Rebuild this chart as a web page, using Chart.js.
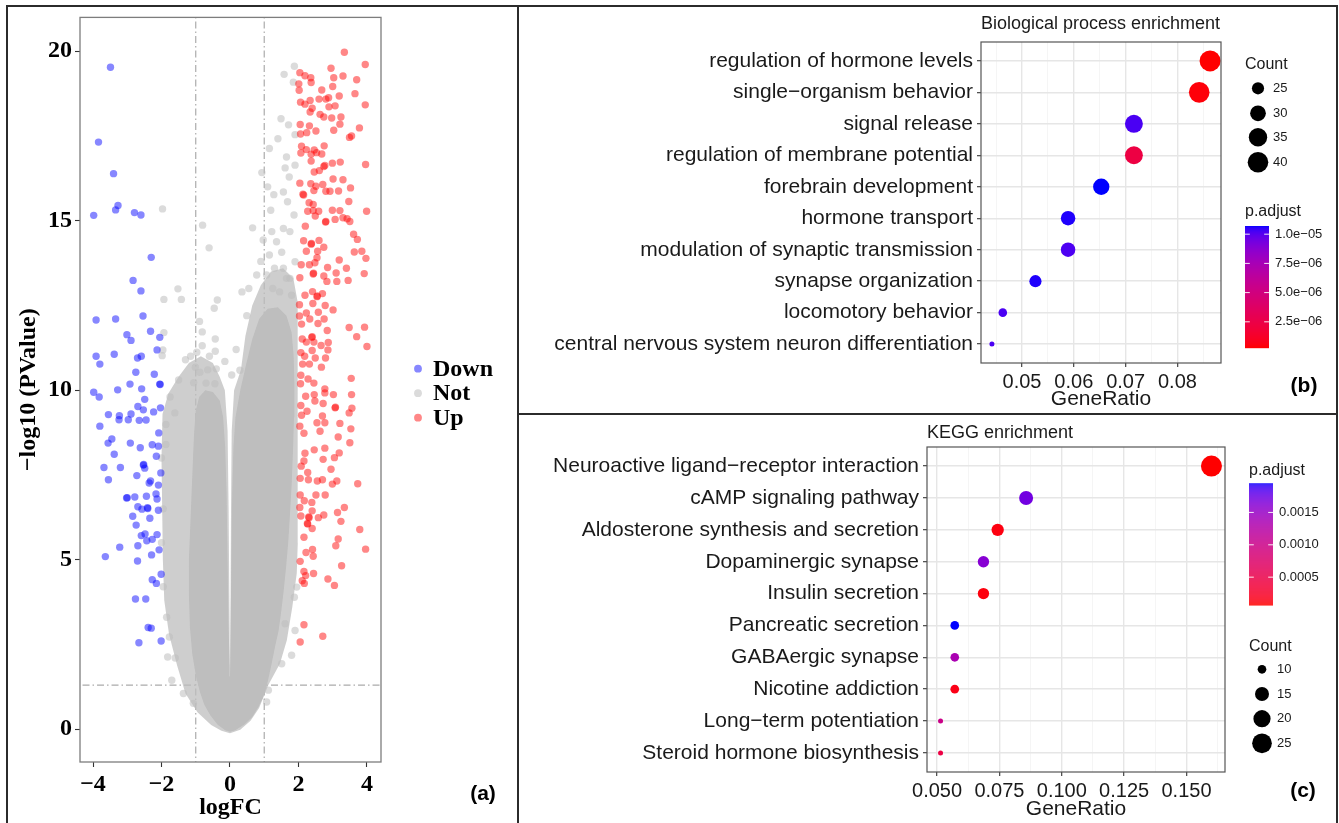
<!DOCTYPE html>
<html>
<head>
<meta charset="utf-8">
<script src="https://cdn.jsdelivr.net/npm/chart.js@4.4.1/dist/chart.umd.min.js"></script>
<style>
  html, body { margin: 0; padding: 0; background: #fff; }
  #page { position: relative; width: 1339px; height: 823px; overflow: hidden; background: #fff; }
  canvas { position: absolute; }
  .rule { position: absolute; background: #2b2b2b; }
  .tag { position: absolute; font: bold 21px "Liberation Sans", Arial, sans-serif; color: #000; transform: translate(-50%, -50%); }
</style>
</head>
<body>
<div id="page">
  <canvas id="volcano" width="517" height="823" style="left:0;top:0"></canvas>
  <canvas id="bp" width="818" height="405" style="left:519px;top:8px"></canvas>
  <canvas id="kegg" width="818" height="408" style="left:519px;top:415px"></canvas>

  <div class="rule" style="left:6px;top:5px;width:1332px;height:2px"></div>
  <div class="rule" style="left:6px;top:5px;width:2px;height:818px"></div>
  <div class="rule" style="left:1336px;top:5px;width:2px;height:818px"></div>
  <div class="rule" style="left:517px;top:5px;width:2px;height:818px"></div>
  <div class="rule" style="left:517px;top:413px;width:821px;height:2px"></div>

  <div class="tag" style="left:483px;top:793px">(a)</div>
  <div class="tag" style="left:1304px;top:385px">(b)</div>
  <div class="tag" style="left:1303px;top:790px">(c)</div>
</div>

<script>
// ---------- (a) volcano plot: [logFC, -log10 P] ----------
const downPts = [
  [-3.49,19.53],[-3.84,17.32],[-3.40,16.39],[-3.27,15.45],[-3.34,15.32],[-3.98,15.16],[-2.79,15.24],[-2.60,15.17],
  [-2.30,13.92],[-2.83,13.24],[-2.60,12.93],[-3.91,12.07],[-3.34,12.10],[-2.54,12.19],[-3.01,11.64],[-2.89,11.47],
  [-2.32,11.74],[-2.05,11.56],[-3.91,11.00],[-3.80,10.77],[-3.38,11.06],[-2.70,10.95],[-2.59,11.00],[-2.13,11.19],
  [-2.75,10.53],[-2.21,10.47],[-2.92,10.18],[-2.05,10.18],[-2.04,10.17],[-2.58,10.04],[-3.28,10.01],[-3.98,9.94],
  [-3.82,9.80],[-2.49,9.73],[-2.03,9.48],[-2.69,9.52],[-2.53,9.42],[-2.23,9.36],[-3.55,9.28],[-3.23,9.25],
  [-2.89,9.30],[-3.24,9.13],[-2.97,9.13],[-2.65,9.11],[-2.45,9.12],[-3.80,8.94],[-2.08,8.74],[-3.45,8.56],
  [-3.56,8.44],[-2.91,8.44],[-2.62,8.30],[-2.27,8.39],[-2.09,8.35],[-3.38,8.11],[-2.15,8.05],[-3.68,7.72],
  [-3.20,7.72],[-2.53,7.79],[-2.52,7.81],[-2.49,7.70],[-2.72,7.48],[-2.02,7.56],[-3.55,7.36],[-2.36,7.26],
  [-2.32,7.32],[-2.09,7.20],[-3.02,6.82],[-3.00,6.83],[-2.78,6.85],[-2.44,6.87],[-2.16,6.94],[-2.13,6.79],
  [-2.69,6.56],[-2.40,6.51],[-2.41,6.53],[-2.57,6.49],[-2.09,6.46],[-2.84,6.28],[-2.34,6.22],[-2.74,6.02],
  [-2.13,5.74],[-2.59,5.71],[-2.48,5.76],[-2.43,5.56],[-2.27,5.60],[-2.69,5.41],[-3.22,5.37],[-2.07,5.29],
  [-3.64,5.09],[-2.70,4.96],[-2.29,5.14],[-2.01,4.57],[-2.27,4.41],[-2.15,4.30],[-2.76,3.84],[-2.46,3.84],
  [-2.39,3.00],[-2.30,2.98],[-2.66,2.55],[-2.01,2.60]
];
const upPts = [
  [3.34,19.97],[3.95,19.61],[2.95,19.50],[3.30,19.27],[3.03,19.22],[3.70,19.16],[2.04,19.37],[2.19,19.28],
  [2.36,19.22],[2.37,19.08],[2.01,19.04],[3.00,18.96],[2.02,18.85],[2.68,18.86],[3.65,18.75],[3.19,18.68],
  [2.88,18.63],[2.60,18.59],[2.80,18.59],[2.06,18.50],[2.19,18.44],[2.34,18.55],[2.40,18.32],[2.89,18.36],
  [3.07,18.39],[3.95,18.42],[2.34,18.21],[2.63,18.14],[2.74,18.06],[2.97,18.03],[3.24,18.06],[2.05,17.84],
  [2.32,17.80],[3.21,17.85],[2.06,17.56],[2.24,17.60],[2.51,17.65],[3.03,17.67],[3.78,17.74],[3.49,17.46],
  [3.55,17.50],[2.09,17.20],[2.07,17.00],[2.23,17.10],[2.46,17.09],[2.75,17.21],[2.37,16.96],[2.53,17.01],
  [2.68,16.97],[2.37,16.76],[2.74,16.60],[2.77,16.63],[2.99,16.70],[3.22,16.73],[3.96,16.66],[2.46,16.44],
  [2.61,16.48],[3.01,16.23],[3.30,16.21],[2.04,16.11],[2.36,16.09],[2.51,16.02],[2.71,16.07],[2.45,15.89],
  [2.80,15.87],[2.92,15.87],[3.52,15.97],[2.15,15.76],[2.13,15.78],[3.17,15.88],[3.47,15.57],[2.31,15.53],
  [2.43,15.48],[2.27,15.28],[2.43,15.30],[2.59,15.28],[2.49,15.14],[2.99,15.31],[3.21,15.30],[3.07,15.04],
  [2.79,14.96],[2.80,14.98],[3.30,15.09],[3.42,15.06],[3.50,14.98],[3.99,15.28],[2.20,14.84],[3.61,14.60],
  [3.72,14.45],[2.15,14.41],[2.37,14.31],[2.38,14.33],[2.60,14.42],[2.74,14.22],[2.56,14.10],[2.23,14.10],
  [3.63,14.08],[3.85,14.10],[3.97,13.89],[2.54,13.91],[2.48,13.76],[3.19,13.84],[2.08,13.70],[2.32,13.70],
  [2.85,13.62],[3.40,13.60],[2.43,13.43],[2.44,13.45],[2.04,13.32],[3.92,13.44],[2.74,13.37],[3.10,13.46],
  [3.12,13.21],[3.45,13.24],[2.83,13.21],[2.19,12.80],[2.54,12.76],[2.55,12.78],[2.41,12.91],[2.70,12.85],
  [2.42,12.56],[2.03,12.52],[2.78,12.50],[3.01,12.37],[2.23,12.28],[2.58,12.30],[2.03,12.19],[2.33,12.10],
  [2.75,12.10],[2.57,11.97],[2.09,11.95],[3.48,11.85],[3.93,11.86],[3.70,11.58],[2.84,11.76],[2.11,11.51],
  [2.39,11.56],[2.40,11.58],[2.23,11.42],[2.45,11.42],[2.87,11.41],[2.66,11.32],[4.00,11.29],[2.07,11.11],
  [2.40,11.17],[2.86,11.19],[2.18,11.00],[2.49,10.95],[2.79,10.95],[2.12,10.77],[2.32,10.77],[2.67,10.68],
  [2.07,10.44],[3.54,10.35],[2.28,10.33],[2.45,10.21],[2.06,10.19],[2.77,10.04],
  [2.21,9.82],[2.46,9.87],[2.77,9.92],[3.02,9.87],[3.55,9.87],[2.07,9.55],[2.25,9.38],[2.48,9.68],
  [2.72,9.61],[3.07,9.48],[3.08,9.50],[3.56,9.47],[3.48,9.33],[2.09,9.26],[2.70,9.24],[2.54,9.04],
  [2.77,9.04],[3.21,9.02],[2.04,8.94],[2.16,8.73],[2.63,8.79],[3.16,8.62],[3.53,8.86],[3.50,8.45],
  [2.77,8.29],[2.46,8.24],[2.19,8.14],[3.19,8.15],[3.05,8.01],[2.72,7.96],[2.16,7.91],[2.08,7.76],
  [2.95,7.67],[2.27,7.57],[2.05,7.40],[2.29,7.36],[2.70,7.36],[2.55,7.32],[2.99,7.23],[3.12,7.32],
  [3.73,7.24],[2.05,6.91],[2.51,6.91],[2.78,6.91],[2.17,6.74],[2.39,6.69],[3.34,6.54],[2.04,6.54],
  [2.40,6.44],[3.14,6.39],[2.74,6.32],[2.07,6.29],[2.30,6.26],[2.31,6.24],[2.26,6.07],[2.27,6.05],
  [2.58,6.24],[3.24,6.13],[2.40,5.92],[3.79,5.89],[2.16,5.66],[3.16,5.61],[3.09,5.41],[3.96,5.31],
  [2.22,5.21],[2.41,5.30],[2.43,5.10],[2.05,4.95],[3.26,4.82],[2.16,4.65],[2.44,4.59],[2.21,4.53],
  [2.11,4.38],[2.17,4.30],[2.86,4.43],[3.05,4.24],[2.16,3.08],[2.71,2.74],[2.05,2.57]
];
// isolated "Not" genes around the dense cloud
const notPts = [
  [-1.97,15.35],[-0.80,14.87],[-0.61,14.20],[-1.52,12.99],[-1.93,12.68],[-1.42,12.68],[-0.37,12.66],[-0.46,12.42],
  [-0.89,12.03],[-1.93,11.70],[-0.81,11.72],[-0.43,11.51],[-0.81,11.31],[-1.96,11.19],[-0.43,11.15],[-1.98,11.02],
  [-0.97,11.12],[-1.01,10.68],[-0.65,10.60],[-0.40,10.63],[-0.88,10.53],[-1.06,10.22],[-0.70,10.21],[-0.44,10.19],
  [0.29,10.59],[1.88,19.56],[1.58,19.32],[1.85,19.09],[1.49,18.01],[1.71,17.83],[1.90,17.54],[1.40,17.42],
  [1.15,17.13],[1.65,16.88],[1.61,16.56],[1.90,16.64],[0.93,16.42],[1.73,16.29],[1.10,16.00],[1.28,15.77],
  [1.56,15.85],[1.68,15.56],[1.19,15.31],[1.87,15.17],[0.66,14.79],[1.56,14.77],[1.22,14.68],[0.97,14.43],
  [1.36,14.38],[1.75,14.68],[1.51,14.07],[1.15,13.99],[1.90,13.79],[1.56,13.60],[0.78,13.40],[1.07,13.40],
  [1.65,13.30],[0.49,12.20],[0.35,12.90],[0.55,13.00],[1.25,13.00],[1.45,12.90],[1.80,12.80],[0.90,13.80],
  [1.30,13.60],[1.75,13.30],[-1.61,9.33],[-1.87,8.99],[-1.87,8.40],[-1.30,10.90],[-1.15,11.00],[-0.60,11.00],
  [-1.50,10.30],[-1.75,9.80],[-2.00,8.00],[-1.95,6.50],[-2.00,5.50],[-1.95,4.20],[-1.85,3.30],[-1.60,2.10],
  [-1.77,2.72],[-1.70,1.44],[-1.82,2.13],[-1.36,1.05],[-1.07,0.76],[1.90,2.91],[1.80,2.18],[1.61,3.11],
  [1.95,4.19],[1.88,3.89],[1.51,1.93],[1.12,1.15],[1.07,0.80],[0.05,10.45],[-0.15,10.85],[0.18,11.2]
];
// outline of the solid (fully overplotted) part of the grey cloud
const notCore = [
  [0.00,-0.08],[0.15,-0.03],[0.42,0.14],[0.65,0.36],[0.83,0.65],[0.96,0.92],[1.08,1.30],[1.20,1.85],
  [1.32,2.45],[1.42,2.90],[1.50,3.50],[1.57,4.10],[1.64,4.80],[1.70,5.50],[1.75,6.30],[1.80,7.20],
  [1.84,8.20],[1.87,9.20],[1.88,10.20],[1.86,11.00],[1.80,11.70],[1.65,12.20],[1.40,12.45],[1.10,12.40],
  [0.85,12.10],[0.65,11.50],[0.48,10.80],[0.30,10.00],[0.16,9.20],[0.10,8.30],[0.065,7.00],[0.04,5.00],
  [0.02,3.00],[0.006,1.80],[0.00,1.55],[-0.008,1.80],[-0.04,3.00],[-0.07,5.00],[-0.10,7.00],[-0.14,8.30],
  [-0.20,9.20],[-0.30,9.70],[-0.50,9.95],[-0.72,10.00],[-0.90,9.80],[-1.00,9.40],
  [-1.05,8.70],[-1.08,8.00],[-1.12,7.00],[-1.16,6.00],[-1.20,5.00],[-1.20,4.00],[-1.17,3.00],[-1.10,2.20],
  [-1.00,1.60],[-0.88,1.10],[-0.75,0.72],[-0.57,0.40],[-0.36,0.13],[-0.14,-0.03]
];
// outline of the half-dense fringe of the grey cloud
const notHalo = [
  [0.00,-0.12],[0.30,-0.02],[0.60,0.25],[0.85,0.62],[1.12,1.30],[1.46,1.94],[1.66,2.62],[1.82,3.60],
  [1.95,4.60],[1.98,5.50],[1.98,8.00],[1.98,11.00],[1.97,12.60],[1.85,13.30],[1.55,13.60],[1.20,13.50],
  [0.90,13.10],[0.65,12.50],[0.45,11.60],[0.32,10.60],[0.12,10.00],[0.05,8.80],[0.03,6.50],[0.012,3.00],
  [0.00,1.50],[-0.012,3.00],[-0.04,6.50],[-0.07,8.80],[-0.15,10.00],[-0.30,10.40],
  [-0.50,10.80],[-0.85,11.00],[-1.20,10.80],[-1.50,10.40],[-1.80,9.90],[-1.97,9.30],[-2.00,8.00],[-1.98,6.50],
  [-1.96,5.00],[-1.92,3.80],[-1.78,2.80],[-1.55,1.90],[-1.30,1.05],[-0.95,0.50],[-0.55,0.12],[-0.25,-0.05]
];
const fcCut = [-1, 1];
const pCut = 1.3;
const volcanoXTicks = [-4, -2, 0, 2, 4];
const volcanoYTicks = [0, 5, 10, 15, 20];
const volcanoGroups = ['Down', 'Not', 'Up'];

// ---------- (b) GO biological process ----------
const bpTerms = [
  'regulation of hormone levels', 'single\u2212organism behavior', 'signal release',
  'regulation of membrane potential', 'forebrain development', 'hormone transport',
  'modulation of synaptic transmission', 'synapse organization', 'locomotory behavior',
  'central nervous system neuron differentiation'
];
const bpRatio = [0.0863, 0.0842, 0.0716, 0.0716, 0.0653, 0.0589, 0.0589, 0.0526, 0.0463, 0.0442];
const bpCount = [41, 40, 34, 34, 31, 28, 28, 25, 22, 21];
const bpPadj = [2.6e-7, 4.1e-7, 1.02e-5, 2.3e-6, 1.07e-5, 1.06e-5, 1.015e-5, 1.06e-5, 1.02e-5, 1.02e-5];
const bpXTicks = [0.05, 0.06, 0.07, 0.08];
const bpCountBreaks = [25, 30, 35, 40];
const bpPadjBreaks = [2.5e-6, 5.0e-6, 7.5e-6, 1.0e-5];

// ---------- (c) KEGG ----------
const keggTerms = [
  'Neuroactive ligand\u2212receptor interaction', 'cAMP signaling pathway', 'Aldosterone synthesis and secretion',
  'Dopaminergic synapse', 'Insulin secretion', 'Pancreatic secretion', 'GABAergic synapse',
  'Nicotine addiction', 'Long\u2212term potentiation', 'Steroid hormone biosynthesis'
];
const keggRatio = [0.1600, 0.0857, 0.0743, 0.0686, 0.0686, 0.0571, 0.0571, 0.0571, 0.0514, 0.0514];
const keggCount = [28, 15, 13, 12, 12, 10, 10, 10, 9, 9];
const keggPadj = [7e-5, 1.72e-3, 1.2e-4, 1.61e-3, 1.1e-4, 1.95e-3, 1.35e-3, 1.5e-4, 1.0e-3, 4.5e-4];
const keggXTicks = [0.05, 0.075, 0.1, 0.125, 0.15];
const keggCountBreaks = [10, 15, 20, 25];
const keggPadjBreaks = [5e-4, 1e-3, 1.5e-3];

// ---------- helpers ----------
const SANS = '"Liberation Sans", Arial, sans-serif';
const SERIF = '"Liberation Serif", "Times New Roman", serif';
const pts = arr => arr.map(([x, y]) => ({x, y}));
const minus = s => String(s).replace('-', '\u2212');

// red -> blue ramp in CIELAB, like ggplot's scale_colour_gradient
function hexToLab(hex) {
  const c = [1, 3, 5].map(i => parseInt(hex.slice(i, i + 2), 16) / 255)
    .map(v => v <= 0.04045 ? v / 12.92 : Math.pow((v + 0.055) / 1.055, 2.4));
  const X = (0.4124 * c[0] + 0.3576 * c[1] + 0.1805 * c[2]) / 0.95047;
  const Y = 0.2126 * c[0] + 0.7152 * c[1] + 0.0722 * c[2];
  const Z = (0.0193 * c[0] + 0.1192 * c[1] + 0.9505 * c[2]) / 1.08883;
  const f = t => t > 0.008856 ? Math.cbrt(t) : 7.787 * t + 16 / 116;
  return [116 * f(Y) - 16, 500 * (f(X) - f(Y)), 200 * (f(Y) - f(Z))];
}
function labToRgb([L, a, b]) {
  const fy = (L + 16) / 116, fx = fy + a / 500, fz = fy - b / 200;
  const g = t => t * t * t > 0.008856 ? t * t * t : (t - 16 / 116) / 7.787;
  const X = g(fx) * 0.95047, Y = g(fy), Z = g(fz) * 1.08883;
  const lin = [3.2406 * X - 1.5372 * Y - 0.4986 * Z, -0.9689 * X + 1.8758 * Y + 0.0415 * Z, 0.0557 * X - 0.2040 * Y + 1.0570 * Z];
  const enc = v => {
    v = Math.max(0, v);
    v = v <= 0.0031308 ? 12.92 * v : 1.055 * Math.pow(v, 1 / 2.4) - 0.055;
    return Math.round(Math.min(1, v) * 255);
  };
  return 'rgb(' + lin.map(enc).join(',') + ')';
}
const LOW = hexToLab('#ff0000'), HIGH = hexToLab('#0000ff');
function ramp(t) {
  t = Math.min(1, Math.max(0, t));
  return labToRgb(LOW.map((v, i) => v + (HIGH[i] - v) * t));
}
// point radius, area-like scaling as in ggplot scale_size
function sizeScale(counts) {
  const lo = Math.min(...counts), hi = Math.max(...counts);
  return c => (5 + 16 * Math.sqrt(Math.max(0, c - lo) / (hi - lo))) / 2;
}
function sci(v) {
  const [m, e] = v.toExponential(1).split('e');
  return m + 'e' + (+e < 0 ? '\u2212' : '+') + String(Math.abs(+e)).padStart(2, '0');
}

Chart.defaults.font.family = SANS;

// ---------- (a) ----------
const groupColor = {Down: 'rgba(0,0,255,0.47)', Not: 'rgba(190,190,190,0.55)', Up: 'rgba(255,0,0,0.47)'};
const dots = (label, arr, order) => ({
  label, data: pts(arr), order,
  backgroundColor: groupColor[label], pointRadius: 3.7, pointHoverRadius: 3.7, pointBorderWidth: 0, borderWidth: 0
});
const shape = (label, arr, color, order) => ({
  label, data: pts(arr), order, showLine: true, fill: 'shape',
  backgroundColor: color, borderColor: 'rgba(0,0,0,0)', borderWidth: 0, pointRadius: 0
});
const cutLine = (label, data) => ({
  label, data, order: 20, showLine: true, fill: false,
  borderColor: '#ababab', borderWidth: 1.2, borderDash: [7, 3, 1.5, 3], pointRadius: 0
});

const volcanoExtras = {
  id: 'volcanoExtras',
  afterDraw(chart) {
    const {ctx, chartArea: a} = chart;
    ctx.save();
    ctx.strokeStyle = '#7d7d7d';
    ctx.lineWidth = 1.3;
    ctx.strokeRect(a.left, a.top, a.right - a.left, a.bottom - a.top);
    const cy = (a.top + a.bottom) / 2 + 3.5;
    volcanoGroups.forEach((g, i) => {
      const y = cy + (i - 1) * 24.5;
      ctx.fillStyle = groupColor[g];
      ctx.beginPath();
      ctx.arc(a.right + 37, y, 3.9, 0, Math.PI * 2);
      ctx.fill();
      ctx.fillStyle = '#000';
      ctx.font = 'bold 24px ' + SERIF;
      ctx.textBaseline = 'middle';
      ctx.textAlign = 'left';
      ctx.fillText(g, a.right + 52, y + 1);
    });
    ctx.restore();
  }
};

new Chart(document.getElementById('volcano'), {
  type: 'scatter',
  data: {
    datasets: [
      dots('Up', upPts, 1),
      dots('Down', downPts, 1),
      dots('Not', notPts, 2),
      shape('NotCore', notCore, 'rgb(190,190,190)', 3),
      shape('NotHalo', notHalo, 'rgba(190,190,190,0.75)', 4),
      cutLine('fcLow', [{x: fcCut[0], y: -5}, {x: fcCut[0], y: 30}]),
      cutLine('fcHigh', [{x: fcCut[1], y: -5}, {x: fcCut[1], y: 30}]),
      cutLine('pCut', [{x: -6, y: pCut}, {x: 6, y: pCut}])
    ]
  },
  options: {
    responsive: false, animation: false, devicePixelRatio: 1,
    layout: {padding: {left: 0, top: 16, right: 136, bottom: 0}},
    plugins: {legend: {display: false}, tooltip: {enabled: false}},
    scales: {
      x: {
        type: 'linear', min: -4.38, max: 4.41,
        afterBuildTicks: s => { s.ticks = volcanoXTicks.map(value => ({value})); },
        afterFit: s => { s.height = 61; },
        ticks: {callback: v => minus(v), color: '#000', padding: 3, maxRotation: 0, autoSkip: false,
                font: {family: SERIF, size: 24, weight: 'bold'}},
        grid: {display: true, drawOnChartArea: false, drawTicks: true, tickLength: 5, tickColor: '#333', tickWidth: 1.1},
        border: {display: false},
        title: {display: true, text: 'logFC', color: '#000', padding: {top: 0, bottom: 1},
                font: {family: SERIF, size: 24, weight: 'bold'}}
      },
      y: {
        type: 'linear', min: -0.97, max: 21.0,
        afterBuildTicks: s => { s.ticks = volcanoYTicks.map(value => ({value})); },
        afterFit: s => { s.width = 80; },
        ticks: {color: '#000', padding: 3, autoSkip: false, font: {family: SERIF, size: 24, weight: 'bold'}},
        grid: {display: true, drawOnChartArea: false, drawTicks: true, tickLength: 5, tickColor: '#333', tickWidth: 1.1},
        border: {display: false},
        title: {display: true, text: '\u2212log10 (PValue)', color: '#000', padding: {top: 14.5, bottom: 0},
                font: {family: SERIF, size: 24, weight: 'bold'}}
      }
    }
  },
  plugins: [volcanoExtras]
});

// ---------- (b) and (c) dot plots ----------
function dotPlot(id, terms, ratio, count, padj, cfg) {
  const lo = Math.min(...ratio), hi = Math.max(...ratio), pad = (hi - lo) * 0.05;
  const pLo = Math.min(...padj), pHi = Math.max(...padj);
  const rOf = sizeScale(count);
  const colOf = p => ramp((p - pLo) / (pHi - pLo));

  const step = cfg.xTicks[1] - cfg.xTicks[0];
  const xTicks = [];
  const last = cfg.xTicks[cfg.xTicks.length - 1];
  for (let k = 0, v = cfg.xTicks[0] - step / 2; v <= last + step / 2 + 1e-9; k++, v = cfg.xTicks[0] - step / 2 + k * step / 2) {
    if (v >= lo - pad && v <= hi + pad) xTicks.push({value: +v.toFixed(6), minor: k % 2 === 0});
  }

  const side = {
    id: 'side_' + id,
    afterDraw(chart) {
      const {ctx, chartArea: a} = chart;
      ctx.save();
      ctx.strokeStyle = '#555';
      ctx.lineWidth = 1.2;
      ctx.strokeRect(a.left, a.top, a.right - a.left, a.bottom - a.top);

      ctx.fillStyle = '#1a1a1a';
      ctx.textAlign = 'left';
      ctx.textBaseline = 'alphabetic';
      ctx.font = '18px ' + SANS;
      ctx.fillText(cfg.title, a.left, cfg.titleY);

      // size legend
      const cl = cfg.countLegend;
      ctx.font = '16px ' + SANS;
      ctx.fillText('Count', cl.x, cl.titleY);
      cfg.countBreaks.forEach((c, i) => {
        ctx.fillStyle = '#000';
        ctx.beginPath();
        ctx.arc(cl.cx, cl.ys[i], rOf(c), 0, Math.PI * 2);
        ctx.fill();
        ctx.fillStyle = '#1a1a1a';
        ctx.font = '13px ' + SANS;
        ctx.textBaseline = 'middle';
        ctx.fillText(String(c), cl.lx, cl.ys[i]);
        ctx.textBaseline = 'alphabetic';
      });

      // colour bar
      const b = cfg.bar;
      ctx.fillStyle = '#1a1a1a';
      ctx.font = '16px ' + SANS;
      ctx.fillText('p.adjust', b.x, b.titleY);
      for (let y = 0; y < b.h; y++) {
        ctx.fillStyle = ramp(1 - (y + 0.5) / b.h);
        ctx.fillRect(b.x, b.y + y, b.w, 1.2);
      }
      cfg.padjBreaks.forEach(v => {
        const y = b.y + b.h * (1 - (v - pLo) / (pHi - pLo));
        ctx.strokeStyle = 'rgba(255,255,255,0.9)';
        ctx.lineWidth = 1;
        ctx.beginPath();
        ctx.moveTo(b.x, y); ctx.lineTo(b.x + b.w / 5, y);
        ctx.moveTo(b.x + b.w * 4 / 5, y); ctx.lineTo(b.x + b.w, y);
        ctx.stroke();
        ctx.fillStyle = '#1a1a1a';
        ctx.font = '13px ' + SANS;
        ctx.textBaseline = 'middle';
        ctx.fillText(cfg.padjFormat(v), b.x + b.w + 6, y);
        ctx.textBaseline = 'alphabetic';
      });
      ctx.restore();
    }
  };

  return new Chart(document.getElementById(id), {
    type: 'scatter',
    data: {
      datasets: [{
        data: ratio.map((r, i) => ({x: r, y: i})),
        pointRadius: count.map(rOf),
        pointHoverRadius: count.map(rOf),
        pointBackgroundColor: padj.map(colOf),
        pointBorderWidth: 0
      }]
    },
    options: {
      responsive: false, animation: false, devicePixelRatio: 1,
      layout: {padding: cfg.padding},
      plugins: {legend: {display: false}, tooltip: {enabled: false}},
      scales: {
        x: {
          type: 'linear', min: lo - pad, max: hi + pad,
          afterBuildTicks: s => { s.ticks = xTicks.map(t => ({...t})); },
          afterFit: s => { s.height = cfg.xAxisH; },
          ticks: {
            callback: (v, i, t) => (t[i] && t[i].minor) ? '' : v.toFixed(cfg.xDigits),
            color: '#1a1a1a', padding: 3, maxRotation: 0, autoSkip: false, font: {size: 20}
          },
          grid: {
            color: c => c.tick && c.tick.minor ? '#f0f0f0' : '#e6e6e6',
            lineWidth: c => c.tick && c.tick.minor ? 0.7 : 1.4,
            tickColor: c => c.tick && c.tick.minor ? 'rgba(0,0,0,0)' : '#333',
            tickLength: 4, tickWidth: 1.1, drawTicks: true
          },
          border: {display: false},
          title: {display: true, text: 'GeneRatio', color: '#1a1a1a', padding: {top: 0, bottom: 1}, font: {size: 21}}
        },
        y: {
          type: 'linear', reverse: true, min: -0.6, max: terms.length - 0.4,
          afterBuildTicks: s => { s.ticks = terms.map((t, i) => ({value: i})); },
          afterFit: s => { s.width = cfg.yAxisW; },
          ticks: {callback: v => terms[v], color: '#1a1a1a', padding: 4, autoSkip: false, font: {size: 21}},
          grid: {color: '#e6e6e6', lineWidth: 1.4, tickColor: '#333', tickLength: 4, tickWidth: 1.1, drawTicks: true},
          border: {display: false}
        }
      }
    },
    plugins: [side]
  });
}

dotPlot('bp', bpTerms, bpRatio, bpCount, bpPadj, {
  title: 'Biological process enrichment', titleY: 20.5,
  padding: {left: 0, top: 34, right: 116, bottom: 0}, yAxisW: 462, xAxisH: 50,
  xTicks: bpXTicks, xDigits: 2,
  countBreaks: bpCountBreaks,
  countLegend: {x: 726, titleY: 61, cx: 739, lx: 754, ys: [80.3, 105.3, 129.3, 154.3]},
  padjBreaks: bpPadjBreaks, padjFormat: sci,
  bar: {x: 726, y: 218, w: 24, h: 122, titleY: 208}
});

dotPlot('kegg', keggTerms, keggRatio, keggCount, keggPadj, {
  title: 'KEGG enrichment', titleY: 23,
  padding: {left: 0, top: 32, right: 112, bottom: 0}, yAxisW: 408, xAxisH: 51,
  xTicks: keggXTicks, xDigits: 3,
  countBreaks: keggCountBreaks,
  countLegend: {x: 730, titleY: 235.5, cx: 743, lx: 758, ys: [254.3, 279, 303.7, 328.3]},
  padjBreaks: keggPadjBreaks, padjFormat: v => v.toFixed(4),
  bar: {x: 730, y: 68.3, w: 24, h: 121.7, titleY: 60}
});
</script>
</body>
</html>
